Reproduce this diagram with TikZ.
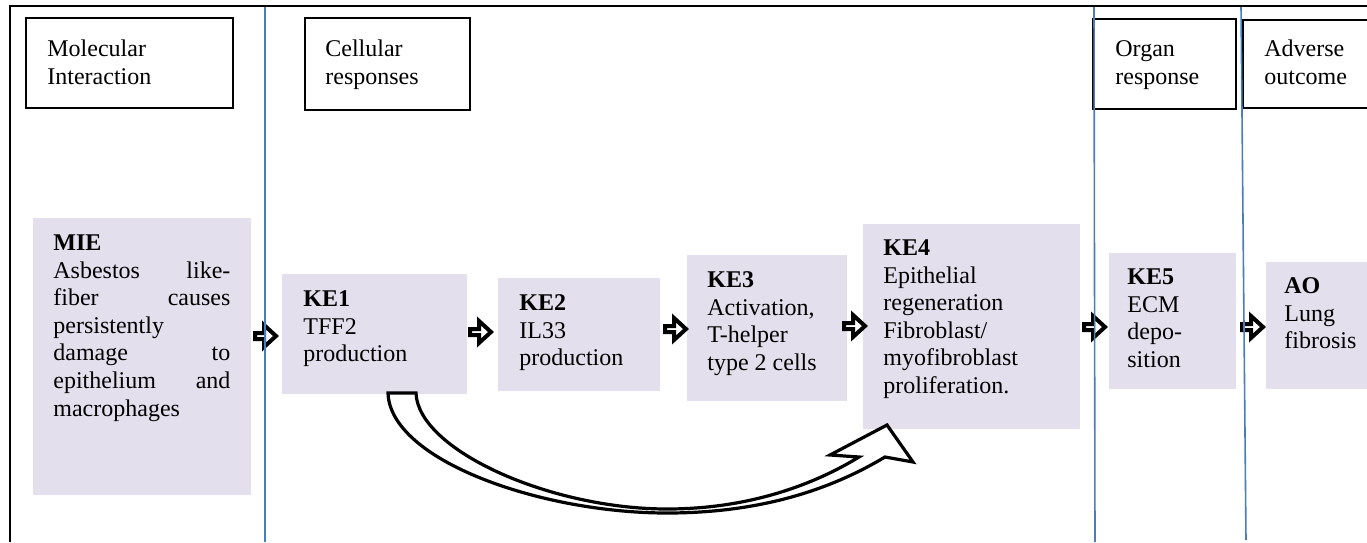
\documentclass[tikz,border=0pt]{standalone}
\usepackage{fontspec}
\setmainfont{Liberation Serif}
\usetikzlibrary{calc,fit}
\definecolor{lav}{HTML}{E4DFEC}
\definecolor{wblue}{HTML}{4A7EBB}
\newcommand{\jline}[2]{\makebox[88.5pt][l]{#1\hfill #2}}
\begin{document}
\begin{tikzpicture}[x=0.5pt,y=-0.5pt,
  font=\fontsize{12pt}{13.8pt}\selectfont,
  evbox/.style={fill=lav, inner sep=0pt},
  hdbox/.style={draw, line width=1pt, inner sep=0pt},
  txt/.style={anchor=north west, inner sep=0pt, align=left},
  blk/.style={draw, fill=white, line width=2pt, line join=miter},
  bigarr/.style={draw, fill=white, line width=1.6pt, line join=miter, miter limit=4},
  sepline/.style={draw=wblue, line width=0.8pt},
  frame/.style={line width=1.25pt}]
\useasboundingbox (0,0) rectangle (1367,542);
\clip (0,0) rectangle (1367,542);

% header boxes
\node[hdbox, fit={(26,18) (233,108)}] (hmol) {};
\node[hdbox, fit={(305,18) (470,110)}] (hcell) {};
\node[hdbox, fit={(1093,19) (1236,109)}] (horg) {};
\node[hdbox, fit={(1243,20) (1385,108)}] (hadv) {};
\node[txt] (thmol) at (47,36.7) {\strut Molecular\\Interaction};
\node[txt] (thcell) at (325,36.7) {\strut Cellular\\responses};
\node[txt] (thorg) at (1115,36.7) {\strut Organ\\response};
\node[txt] (thadv) at (1264,36.7) {\strut Adverse\\outcome};

% event boxes
\node[evbox, fit={(33,218) (251,495)}] (mie) {};
\node[evbox, fit={(282,274) (467,394)}] (ke1) {};
\node[evbox, fit={(498,278) (660,391)}] (ke2) {};
\node[evbox, fit={(687,255) (847,401)}] (ke3) {};
\node[evbox, fit={(863,224) (1080,429)}] (ke4) {};
\node[evbox, fit={(1109,253) (1236,389)}] (ke5) {};
\node[evbox, fit={(1266,262) (1380,389)}] (ao) {};

\node[txt] (tmie) at (53,230.7) {\strut\textbf{MIE}\\
\jline{Asbestos}{like-}\\
\jline{fiber}{causes}\\
persistently\\
\jline{damage}{to}\\
\jline{epithelium}{and}\\
macrophages};
\node[txt] (tke1) at (303,286.7) {\strut\textbf{KE1}\\TFF2\\production};
\node[txt] (tke2) at (519,290.7) {\strut\textbf{KE2}\\IL33\\production};
\node[txt] (tke3) at (707,267.7) {\strut\textbf{KE3}\\Activation,\\T-helper\\type 2 cells};
\node[txt] (tke4) at (883,235.7) {\strut\textbf{KE4}\\Epithelial\\regeneration\\Fibroblast/\\myofibroblast\\proliferation.};
\node[txt] (tke5) at (1127,264.7) {\strut\textbf{KE5}\\ECM\\depo-\\sition};
\node[txt] (tao) at (1284,273.7) {\strut\textbf{AO}\\Lung\\fibrosis};

% block arrows between events
\coordinate (a1) at (266,336);
\coordinate (a2) at (481,332);
\coordinate (a3) at (676,329);
\coordinate (a4) at (855,326);
\coordinate (a5) at (1095,327);
\coordinate (a6) at (1253,327);
\foreach \c in {a1,a2,a3,a4,a5,a6}{
  \draw[blk, shift={(\c)}] (-11,-3) -- (-2,-3) -- (-2,-11) -- (10,0) -- (-2,11) -- (-2,3) -- (-11,3) -- cycle;
}

% curved arrow KE1 -> KE4
\draw[bigarr] (388,393) .. controls (390,460) and (540,513) .. (667,513)
  .. controls (760,513) and (830,490) .. (885,457)
  -- (913,462) -- (887,425) -- (830,455) -- (859,457)
  .. controls (815,484) and (750,509) .. (667,509)
  .. controls (550,509) and (418,450) .. (416,393) -- cycle;

% separators
\draw[sepline] (265,6) -- (265,542);
\draw[sepline] (1094,6) -- (1095,542);
\draw[sepline] (1241,6) -- (1246,540);

% frame
\draw[frame] (10,542) -- (10,6) -- (1370,6);
\end{tikzpicture}
\end{document}
